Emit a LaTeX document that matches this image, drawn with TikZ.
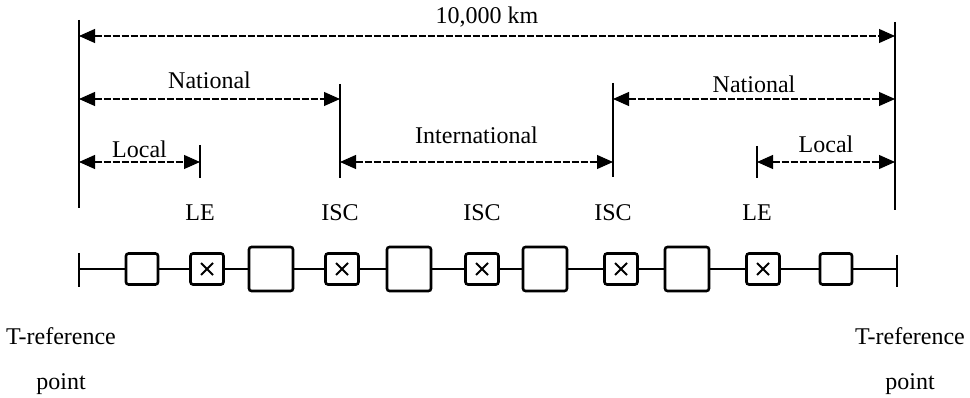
\documentclass[tikz,border=0pt]{standalone}
\usepackage{fontspec}
\setmainfont{Liberation Serif}
\usetikzlibrary{arrows.meta, positioning}

\begin{document}
\begin{tikzpicture}[
    x=1pt, y=-1pt,
    font=\fontsize{24}{28}\selectfont,
    bar/.style={line width=2.8pt},
    dim/.style={{Triangle[length=16pt,width=14pt]}-{Triangle[length=16pt,width=14pt]}, line width=1.1pt, dash pattern=on 7pt off 2pt},
    blk/.style={draw, line width=2.6pt, rounded corners=2.5pt, minimum width=32pt, minimum height=31pt, inner sep=0pt},
    bigblk/.style={blk, minimum width=44pt, minimum height=44pt},
    swblk/.style={blk, minimum width=33pt, path picture={
        \draw[line width=2pt]
          ([shift={(-6pt,-6pt)}]path picture bounding box.center) -- ([shift={(6pt,6pt)}]path picture bounding box.center)
          ([shift={(-6pt,6pt)}]path picture bounding box.center) -- ([shift={(6pt,-6pt)}]path picture bounding box.center);}},
    lbl/.style={inner sep=1pt},
]
\useasboundingbox (0,0) rectangle (970,398);

% ============ reference bars and exchange bars ============
\draw[bar] (79,20) coordinate (refL-top) -- (79,208) coordinate (refL-bot);
\draw[bar] (895,22) coordinate (refR-top) -- (895,210) coordinate (refR-bot);
\draw[bar] (340,84) -- (340,178);
\draw[bar] (613,83) -- (613,177);
\draw[bar, line width=2.2pt] (200,145) -- (200,178);
\draw[bar, line width=2.2pt] (757,146) -- (757,178);

\coordinate (kmL) at (79,36);   \coordinate (kmR) at (895,36);
\coordinate (natL1) at (79,99); \coordinate (natL2) at (340,99);
\coordinate (natR1) at (613,99); \coordinate (natR2) at (895,99);
\coordinate (locL1) at (79,162); \coordinate (locL2) at (200,162);
\coordinate (intL) at (340,162); \coordinate (intR) at (613,162);
\coordinate (locR1) at (757,162); \coordinate (locR2) at (895,162);

% ============ spans ============
\draw[dim] (kmL) -- node[lbl, above=7pt] {10,000 km} (kmR);
\draw[dim] (natL1) -- node[lbl, above=9pt] {National} (natL2);
\draw[dim] (natR1) -- node[lbl, above=5pt] {National} (natR2);
\draw[dim] (locL1) -- node[lbl, above=3pt] {Local} (locL2);
\draw[dim] (intL) -- node[lbl, above=17pt] {International} (intR);
\draw[dim] (locR1) -- node[lbl, above=8pt] {Local} (locR2);

% ============ exchange labels ============
\node[lbl] (le1)  at (200,213) {LE};
\node[lbl] (isc1) at (340,213) {ISC};
\node[lbl] (isc2) at (482,213) {ISC};
\node[lbl] (isc3) at (613,213) {ISC};
\node[lbl] (le2)  at (757,213) {LE};

% ============ connection chain ============
\draw[bar] (79,253) -- (79,287);
\draw[bar] (897,255) -- (897,287);
\coordinate (chainL) at (79,269);
\coordinate (chainR) at (897,269);

\node[blk]    (b1) at (142,269) {};
\node[swblk]  (s1) at (207,269) {};
\node[bigblk] (g1) at (271,269) {};
\node[swblk]  (s2) at (342,269) {};
\node[bigblk] (g2) at (409,269) {};
\node[swblk]  (s3) at (482,269) {};
\node[bigblk] (g3) at (545,269) {};
\node[swblk]  (s4) at (621,269) {};
\node[bigblk] (g4) at (687,269) {};
\node[swblk]  (s5) at (763,269) {};
\node[blk]    (b2) at (836,269) {};

\draw[line width=1.3pt] (chainL) -- (b1) -- (s1) -- (g1) -- (s2) -- (g2) -- (s3)
  -- (g3) -- (s4) -- (g4) -- (s5) -- (b2) -- (chainR);

% ============ T-reference points ============
\node[lbl, align=center] (trefL) at (61,361) {T-reference\\[17pt]point};
\node[lbl, align=center] (trefR) at (910,361) {T-reference\\[17pt]point};

\end{tikzpicture}
\end{document}
